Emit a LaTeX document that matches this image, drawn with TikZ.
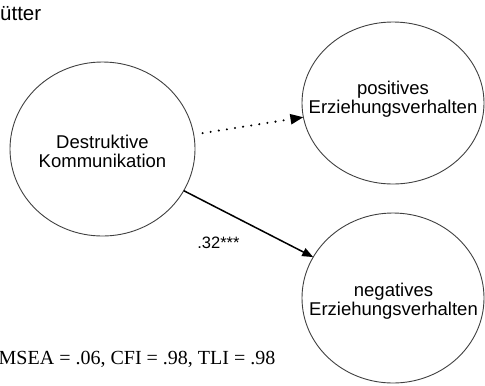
\documentclass[tikz,border=0pt]{standalone}
\usepackage{fontspec}
\setmainfont{Liberation Sans}
\newfontfamily\timesfont{Liberation Serif}
\usetikzlibrary{arrows.meta,shapes.geometric}
\begin{document}
\begin{tikzpicture}[x=1bp,y=-1bp,
  latent/.style={ellipse, draw=black!75, line width=0.9bp, inner sep=0pt, outer sep=0pt},
  lbl/.style={align=center, font=\fontsize{18.5bp}{19bp}\selectfont, inner sep=0pt},
  dotarrow/.style={line width=2.3bp, dash pattern=on 0bp off 8.2bp, line cap=round,
    -{Triangle[length=13bp,width=10bp,line cap=butt]}, shorten <=9bp},
  solidarrow/.style={line width=1.5bp, -{Triangle[length=11bp,width=8.5bp]}},
  coef/.style={font=\fontsize{16.5bp}{19bp}\selectfont, inner sep=0pt}
]
\useasboundingbox (0,0) rectangle (485,385);
\node[latent, minimum width=185bp, minimum height=174bp] (L) at (102.5,149) {};
\node[latent, minimum width=182bp, minimum height=162bp] (P) at (393,103) {};
\node[latent, minimum width=182bp, minimum height=170bp] (N) at (393,298) {};
\node[lbl] (Lt) at (102.5,151) {Destruktive\\Kommunikation};
\node[lbl] (Pt) at (393,99.5) {positives\\Erziehungsverhalten};
\node[lbl] (Nt) at (393.5,301.5) {negatives\\Erziehungsverhalten};
\draw[dotarrow] (L) -- (P);
\draw[solidarrow] (L) -- (N) node[coef, midway, xshift=-30bp, yshift=-19bp] (c) {.32***};
\node[anchor=base west, inner sep=0pt, font=\fontsize{20.5bp}{24bp}\selectfont] (T) at (0,20) {ütter};
\node[anchor=base west, inner sep=0pt, font=\timesfont\fontsize{20bp}{24bp}\selectfont] (F) at (-1.5,364) {MSEA = .06, CFI = .98, TLI = .98};
\end{tikzpicture}
\end{document}
